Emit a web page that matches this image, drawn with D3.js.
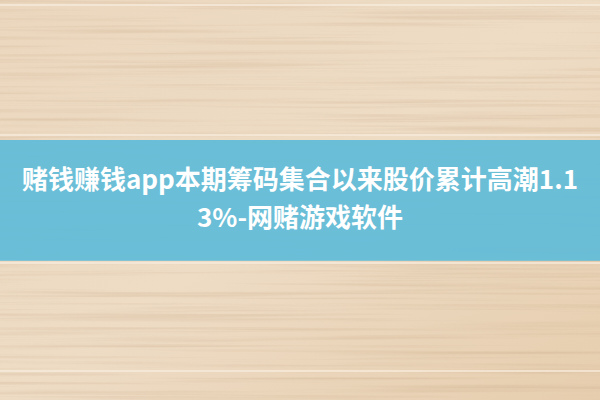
<!DOCTYPE html>
<html>
<head>
<meta charset="utf-8">
<script src="https://cdn.jsdelivr.net/npm/d3@7"></script>
<style>
  html, body { margin: 0; padding: 0; background: #e8d3b8; }
  svg { display: block; }
</style>
</head>
<body>
<div id="chart"></div>
<script>
// title lines shown on the banner
const titleLines = ["赌钱赚钱app本期筹码集合以来股价累计高潮1.1", "3%-网赌游戏软件"];
// plank seams of the wood background (fraction of height)
const seams = [0.01, 0.335, 0.655, 0.925];
// banner band (fraction of height)
const band = [0.35, 0.652];

const width = 600, height = 400;

const svg = d3.select("#chart").append("svg")
    .attr("width", width)
    .attr("height", height);

const y = d3.scaleLinear().domain([0, 1]).range([0, height]);

const defs = svg.append("defs");

// wood base gradient
const grad = defs.append("linearGradient")
    .attr("id", "wood")
    .attr("x1", 0).attr("y1", 0).attr("x2", 1).attr("y2", 1);
grad.append("stop").attr("offset", "0%").attr("stop-color", "#ebd7be");
grad.append("stop").attr("offset", "50%").attr("stop-color", "#eedcc5");
grad.append("stop").attr("offset", "100%").attr("stop-color", "#e6cdae");

// grain texture
const grain = defs.append("filter")
    .attr("id", "grain")
    .attr("x", 0).attr("y", 0).attr("width", "100%").attr("height", "100%");
grain.append("feTurbulence")
    .attr("type", "fractalNoise")
    .attr("baseFrequency", "0.003 0.22")
    .attr("numOctaves", 3)
    .attr("seed", 7);
grain.append("feColorMatrix")
    .attr("type", "matrix")
    .attr("values", "0 0 0 0 0.62  0 0 0 0 0.44  0 0 0 0 0.28  0 0 0 -1.6 0.85");
grain.append("feComposite").attr("in2", "SourceGraphic").attr("operator", "in");

svg.append("rect")
    .attr("width", width).attr("height", height)
    .attr("fill", "url(#wood)");

svg.append("rect")
    .attr("width", width).attr("height", height)
    .attr("fill", "#fff")
    .attr("filter", "url(#grain)")
    .attr("opacity", 0.6);

// plank seams
svg.selectAll(".seam")
    .data(seams)
    .enter().append("rect")
    .attr("class", "seam")
    .attr("x", 0)
    .attr("y", d => y(d))
    .attr("width", width)
    .attr("height", 2)
    .attr("fill", "#f6ead9")
    .attr("opacity", 0.8);

// blue banner
svg.append("rect")
    .attr("x", 0)
    .attr("y", y(band[0]))
    .attr("width", width)
    .attr("height", y(band[1]) - y(band[0]))
    .attr("fill", "#62bcd8")
    .attr("opacity", 0.94);

// text on banner
const lineY = d3.scalePoint()
    .domain(d3.range(titleLines.length))
    .range([y(0.456), y(0.551)]);

svg.selectAll(".title")
    .data(titleLines)
    .enter().append("text")
    .attr("class", "title")
    .attr("x", width / 2)
    .attr("y", (d, i) => lineY(i))
    .attr("text-anchor", "middle")
    .attr("dominant-baseline", "middle")
    .attr("fill", "#ffffff")
    .style("font-family", "'Noto Sans CJK SC', 'Noto Sans', sans-serif")
    .style("font-weight", "bold")
    .style("font-size", "26px")
    .text(d => d);
</script>
</body>
</html>
